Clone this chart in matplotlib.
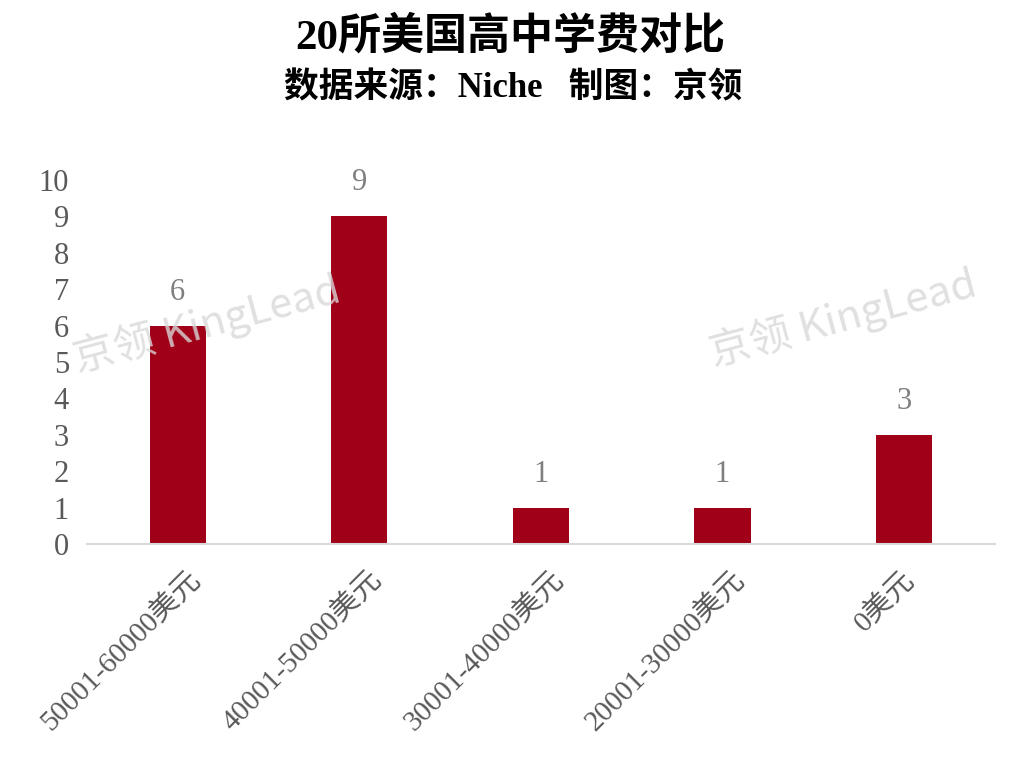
import matplotlib
matplotlib.use('Agg')
import matplotlib.pyplot as plt
from matplotlib.transforms import ScaledTranslation

categories = ['50001-60000美元', '40001-50000美元', '30001-40000美元', '20001-30000美元', '0美元']
counts = [6, 9, 1, 1, 3]
yticks = list(range(0, 11))

FAM = ['Liberation Serif', 'Noto Sans CJK SC', 'DejaVu Sans']
plt.rcParams['font.family'] = FAM

fig = plt.figure(figsize=(10.1, 7.82), dpi=100)
ax = fig.add_axes([0.0861, 0.3043, 0.8989, 0.4655])

x = range(len(categories))
ax.bar(x, counts, width=0.31, color='#A00018', zorder=2)
for xi, v in zip(x, counts):
    ax.text(xi, v + 0.92, str(v), ha='center', va='center', fontsize=22, color='#7f7f7f')

ax.set_xlim(-0.5, len(categories) - 0.5)
ax.set_ylim(0, 10)
ax.set_yticks(yticks)
ax.set_yticklabels([str(t) for t in yticks], fontsize=22, color='#595959')
ax.set_xticks(list(x))
ax.set_xticklabels(categories, rotation=45, ha='right', rotation_mode='anchor',
                   fontsize=21, color='#595959')
ax.tick_params(axis='both', length=0)
ax.tick_params(axis='y', pad=13)
ax.tick_params(axis='x', pad=16)

# long labels sit a bit to the right of the tick, as in the original
for lab in ax.get_xticklabels():
    shift = 0.09 if len(lab.get_text()) > 5 else -0.03
    lab.set_transform(lab.get_transform() + ScaledTranslation(shift, 0, fig.dpi_scale_trans))

for s in ['top', 'right', 'left']:
    ax.spines[s].set_visible(False)
ax.spines['bottom'].set_color('#d9d9d9')
ax.spines['bottom'].set_linewidth(1.5)

fig.text(0.505, 0.953, '20所美国高中学费对比', ha='center', va='center',
         fontsize=31, fontweight='bold', color='black')
fig.text(0.508, 0.886, '数据来源：Niche   制图：京领', ha='center', va='center',
         fontsize=25, fontweight='bold', color='black')

for wx, wy in [(0.205, 0.585), (0.835, 0.592)]:
    fig.text(wx, wy, '京领 KingLead', ha='center', va='center', rotation=15,
             fontsize=30, color='#d9d9d9', alpha=0.8,
             family=['Noto Sans CJK SC', 'DejaVu Sans'], zorder=5)

fig.savefig('out.png', dpi=100)
